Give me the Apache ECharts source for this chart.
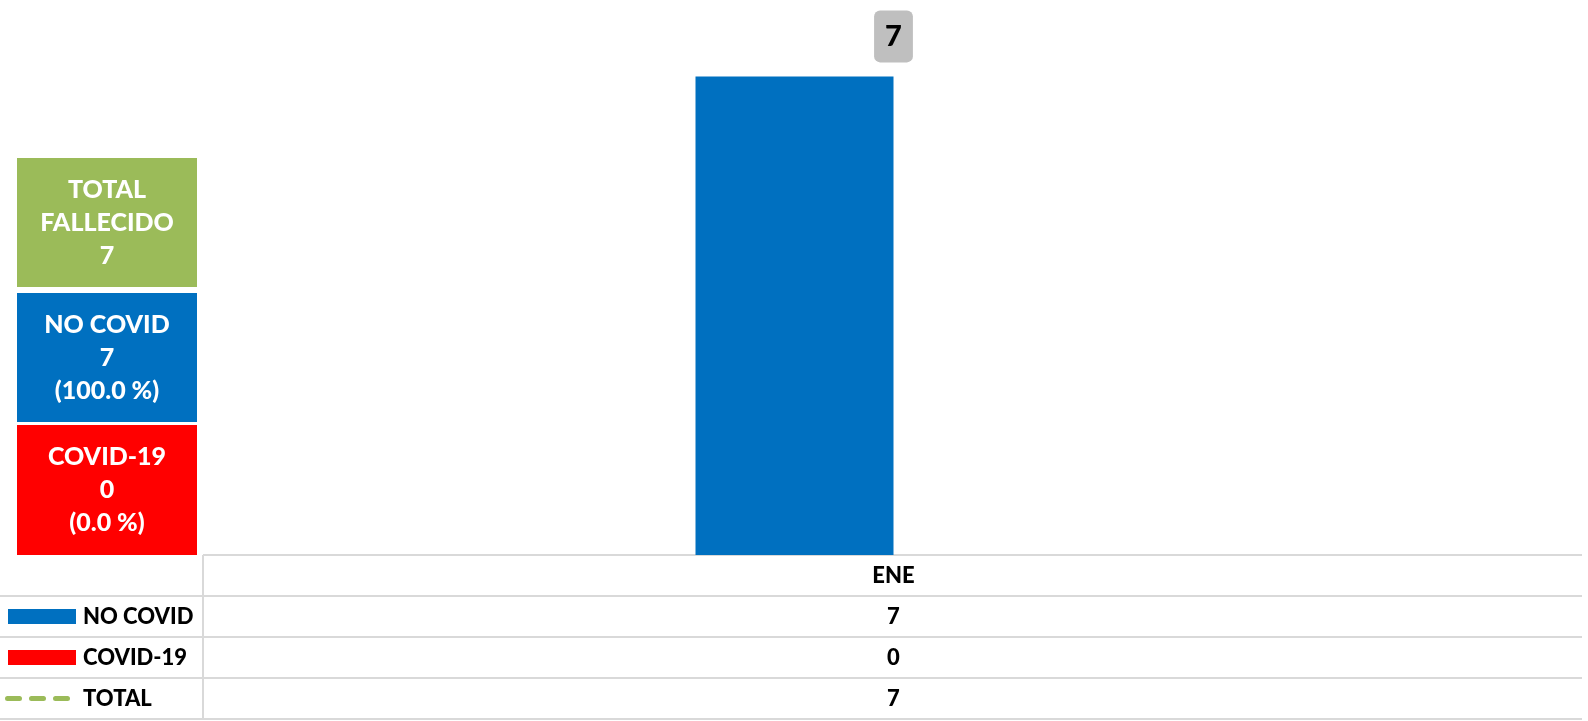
<!DOCTYPE html>
<html><head><meta charset="utf-8">
<script src="https://cdn.jsdelivr.net/npm/echarts@6/dist/echarts.min.js"></script>
<style>html,body{margin:0;padding:0;background:#fff}#c{width:1588px;height:721px}</style>
</head><body><div id="c"></div>
<script>
const categories = ['ENE'];
const noCovid = [7];
const covid19 = [0];
const total = [7];
const seriesNames = ['NO COVID', 'COVID-19', 'TOTAL'];
const boxTitles = ['TOTAL\nFALLECIDO', 'NO COVID', 'COVID-19'];

const COL_BLUE = '#0070C0', COL_RED = '#FF0000', COL_GREEN = '#9BBB59';
const FONT = 'Lato, "Noto Sans", sans-serif';
const sum = a => a.reduce((s, v) => s + v, 0);

const chart = echarts.init(document.getElementById('c'));
const GRID = { left: 205, right: 6, top: 8, bottom: 166 };

chart.setOption({
  animation: false,
  grid: GRID,
  xAxis: { type: 'category', data: categories, axisLine: { show: false }, axisTick: { show: false }, axisLabel: { show: false } },
  yAxis: { type: 'value', min: 0, max: 8, show: false, splitLine: { show: false } },
  series: [
    { name: seriesNames[0], type: 'bar', data: noCovid, barWidth: 198, barGap: '0%', itemStyle: { color: COL_BLUE } },
    { name: seriesNames[1], type: 'bar', data: covid19, barWidth: 198, barGap: '0%', itemStyle: { color: COL_RED } },
    { name: seriesNames[2], type: 'line', data: total, symbol: 'circle', symbolSize: 0,
      lineStyle: { color: COL_GREEN, type: 'dashed', width: 4 },
      label: { show: true, position: 'top', distance: 14, color: '#000', fontFamily: FONT, fontWeight: 900, fontSize: 29,
        backgroundColor: '#BFBFBF', borderRadius: 6, padding: [12, 11, 11, 11] } }
  ]
});

const plotBottom = chart.convertToPixel({ yAxisIndex: 0 }, 0);
const xRight = 1588 - GRID.right;
const xLeft = 203;
const rowH = 41;
const g = [];
const lineStyle = { stroke: '#D9D9D9', lineWidth: 2 };
g.push({ type: 'line', shape: { x1: xLeft, y1: plotBottom, x2: xRight, y2: plotBottom }, style: lineStyle });
for (let r = 1; r <= 4; r++) {
  const y = plotBottom + r * rowH;
  g.push({ type: 'line', shape: { x1: 0, y1: y, x2: xRight, y2: y }, style: lineStyle });
}
g.push({ type: 'line', shape: { x1: xLeft, y1: plotBottom, x2: xLeft, y2: plotBottom + 4 * rowH }, style: lineStyle });

const tableText = (txt, x, y, align) => ({ type: 'text', x, y,
  style: { text: txt, fill: '#000', font: '900 22px ' + FONT, textAlign: align || 'center', textVerticalAlign: 'middle' } });

const rows = [noCovid, covid19, total];
categories.forEach((c, i) => {
  const x = chart.convertToPixel({ xAxisIndex: 0 }, c);
  g.push(tableText(c, x, plotBottom + rowH / 2));
  rows.forEach((arr, r) => g.push(tableText(String(arr[i]), x, plotBottom + (r + 1.5) * rowH)));
});
const ry = r => plotBottom + (r + 1.5) * rowH;
g.push({ type: 'rect', shape: { x: 8, y: ry(0) - 7.5, width: 68, height: 15 }, style: { fill: COL_BLUE } });
g.push({ type: 'rect', shape: { x: 8, y: ry(1) - 7.5, width: 68, height: 15 }, style: { fill: COL_RED } });
g.push({ type: 'line', shape: { x1: 7.5, y1: ry(2), x2: 68.5, y2: ry(2) },
  style: { stroke: COL_GREEN, lineWidth: 5, lineDash: [12, 12], lineCap: 'round' } });
seriesNames.forEach((n, r) => g.push(tableText(n, 83, ry(r), 'left')));

const tot = sum(total), nc = sum(noCovid), cv = sum(covid19);
const pct = v => '(' + (tot ? (v / tot * 100) : 0).toFixed(1) + ' %)';
const boxes = [
  { y: 158, h: 129, color: COL_GREEN, text: boxTitles[0] + '\n' + tot },
  { y: 293, h: 129, color: COL_BLUE, text: boxTitles[1] + '\n' + nc + '\n' + pct(nc) },
  { y: 425, h: plotBottom - 425, color: COL_RED, text: boxTitles[2] + '\n' + cv + '\n' + pct(cv) }
];
boxes.forEach(b => {
  g.push({ type: 'rect', shape: { x: 17, y: b.y, width: 180, height: b.h }, style: { fill: b.color } });
  g.push({ type: 'text', x: 107, y: b.y + b.h / 2,
    style: { text: b.text, fill: '#fff', font: '900 25px ' + FONT, lineHeight: 33, textAlign: 'center', textVerticalAlign: 'middle' } });
});

chart.setOption({ graphic: { elements: g } });
</script>
</body></html>
